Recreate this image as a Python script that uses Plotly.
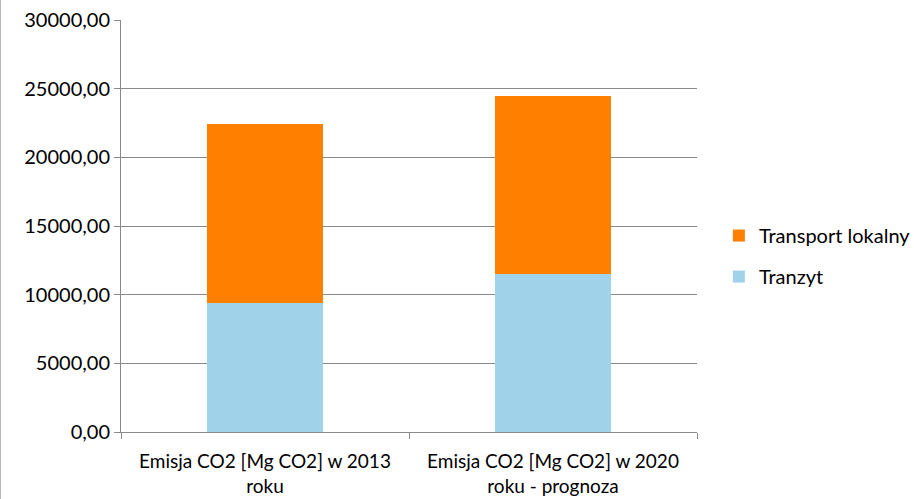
import plotly.graph_objects as go

categories = ["Emisja CO2 [Mg CO2] w 2013<br>roku", "Emisja CO2 [Mg CO2] w 2020<br>roku - prognoza"]
tranzyt = [9400, 11530]
transport_lokalny = [13050, 12960]
y_ticks = [0, 5000, 10000, 15000, 20000, 25000, 30000]

font_family = "Lato, 'Open Sans', sans-serif"

fig = go.Figure()
fig.add_trace(go.Bar(
    x=categories, y=tranzyt, name="Tranzyt",
    marker=dict(color="#A0D3EA", line=dict(width=0)),
    legendgroup="a", legendrank=2,
))
fig.add_trace(go.Bar(
    x=categories, y=transport_lokalny, name="Transport lokalny",
    marker=dict(color="#FF7F00", line=dict(width=0)),
    legendgroup="b", legendrank=1,
))

fig.update_layout(
    barmode="stack",
    bargap=0.6,
    width=914, height=499,
    margin=dict(l=121, r=217, t=20, b=67, autoexpand=False),
    paper_bgcolor="white",
    plot_bgcolor="white",
    separators=", ",
    font=dict(family=font_family, size=20, color="#000000"),
    legend=dict(
        traceorder="grouped",
        x=1.038, y=0.427, xanchor="left", yanchor="middle",
        font=dict(size=20, family=font_family, color="#000000"),
        tracegroupgap=12,
        itemwidth=30,
    ),
    xaxis=dict(
        showline=True, linecolor="#898989", linewidth=1,
        ticks="outside", tickson="boundaries", ticklen=6, tickcolor="#898989",
        showgrid=False,
        automargin=False,
        ticklabelstandoff=12,
        tickfont=dict(size=19, family=font_family),
    ),
    yaxis=dict(
        range=[0, 30000],
        tickvals=y_ticks,
        tickformat=".2f",
        showline=True, linecolor="#898989", linewidth=1,
        ticks="outside", ticklen=6, tickcolor="#898989",
        showgrid=True, gridcolor="#898989", gridwidth=1,
        zeroline=False,
        automargin=False,
        tickfont=dict(size=20, family=font_family),
    ),
    shapes=[dict(
        type="line", xref="paper", yref="paper",
        x0=-121/576, x1=-121/576, y0=-67/412, y1=1 + 20/412,
        line=dict(color="#A0A0A0", width=1.5),
    )],
)

fig.write_html("out.html")
